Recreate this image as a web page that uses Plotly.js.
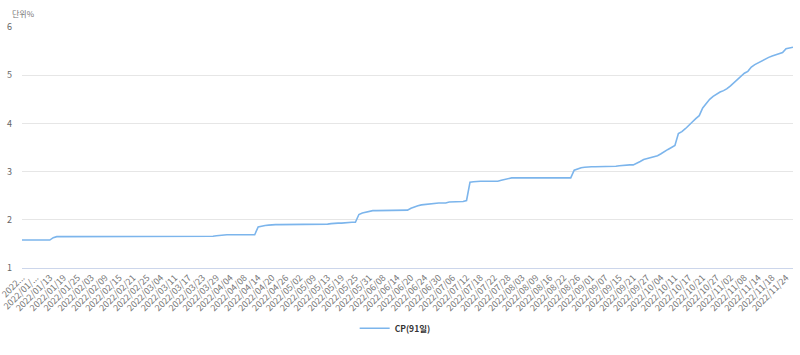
<!DOCTYPE html>
<html>
<head>
<meta charset="utf-8">
<script src="https://cdn.plot.ly/plotly-3.0.1.min.js"></script>
<style>html,body{margin:0;padding:0;background:#fff;}#chart{width:800px;height:355px;}</style>
</head>
<body>
<div id="chart"></div>
<script>
const seriesName = "CP(91일)";
const unitLabel = "단위%";

const dates = [
"2022/01/03","2022/01/04","2022/01/05","2022/01/06","2022/01/07","2022/01/10","2022/01/11","2022/01/12","2022/01/13","2022/01/14",
"2022/01/17","2022/01/18","2022/01/19","2022/01/20","2022/01/21","2022/01/24","2022/01/25","2022/01/26","2022/01/27","2022/01/28",
"2022/02/03","2022/02/04","2022/02/07","2022/02/08","2022/02/09","2022/02/10","2022/02/11","2022/02/14","2022/02/15","2022/02/16",
"2022/02/17","2022/02/18","2022/02/21","2022/02/22","2022/02/23","2022/02/24","2022/02/25","2022/02/28",
"2022/03/02","2022/03/03","2022/03/04","2022/03/07","2022/03/08","2022/03/10","2022/03/11","2022/03/14","2022/03/15","2022/03/16",
"2022/03/17","2022/03/18","2022/03/21","2022/03/22","2022/03/23","2022/03/24","2022/03/25","2022/03/28","2022/03/29","2022/03/30","2022/03/31",
"2022/04/01","2022/04/04","2022/04/05","2022/04/06","2022/04/07","2022/04/08","2022/04/11","2022/04/12","2022/04/13","2022/04/14",
"2022/04/15","2022/04/18","2022/04/19","2022/04/20","2022/04/21","2022/04/22","2022/04/25","2022/04/26","2022/04/27","2022/04/28","2022/04/29",
"2022/05/02","2022/05/03","2022/05/04","2022/05/06","2022/05/09","2022/05/10","2022/05/11","2022/05/12","2022/05/13","2022/05/16",
"2022/05/17","2022/05/18","2022/05/19","2022/05/20","2022/05/23","2022/05/24","2022/05/25","2022/05/26","2022/05/27","2022/05/30","2022/05/31",
"2022/06/02","2022/06/03","2022/06/07","2022/06/08","2022/06/09","2022/06/10","2022/06/13","2022/06/14","2022/06/15","2022/06/16",
"2022/06/17","2022/06/20","2022/06/21","2022/06/22","2022/06/23","2022/06/24","2022/06/27","2022/06/28","2022/06/29","2022/06/30",
"2022/07/01","2022/07/04","2022/07/05","2022/07/06","2022/07/07","2022/07/08","2022/07/11","2022/07/12","2022/07/13","2022/07/14",
"2022/07/15","2022/07/18","2022/07/19","2022/07/20","2022/07/21","2022/07/22","2022/07/25","2022/07/26","2022/07/27","2022/07/28","2022/07/29",
"2022/08/01","2022/08/02","2022/08/03","2022/08/04","2022/08/05","2022/08/08","2022/08/09","2022/08/10","2022/08/11","2022/08/12",
"2022/08/16","2022/08/17","2022/08/18","2022/08/19","2022/08/22","2022/08/23","2022/08/24","2022/08/25","2022/08/26","2022/08/29","2022/08/30","2022/08/31",
"2022/09/01","2022/09/02","2022/09/05","2022/09/06","2022/09/07","2022/09/08","2022/09/13","2022/09/14","2022/09/15","2022/09/16",
"2022/09/19","2022/09/20","2022/09/21","2022/09/22","2022/09/23","2022/09/26","2022/09/27","2022/09/28","2022/09/29","2022/09/30",
"2022/10/04","2022/10/05","2022/10/06","2022/10/07","2022/10/11","2022/10/12","2022/10/13","2022/10/14","2022/10/17","2022/10/18",
"2022/10/19","2022/10/20","2022/10/21","2022/10/24","2022/10/25","2022/10/26","2022/10/27","2022/10/28","2022/10/31",
"2022/11/01","2022/11/02","2022/11/03","2022/11/04","2022/11/07","2022/11/08","2022/11/09","2022/11/10","2022/11/11","2022/11/14",
"2022/11/15","2022/11/16","2022/11/17","2022/11/18","2022/11/21","2022/11/22","2022/11/23","2022/11/24","2022/11/25","2022/11/28"
];

const cpRates = [
1.58,1.58,1.58,1.58,1.58,1.58,1.58,1.58,1.58,1.63,
1.65,1.65,1.65,1.65,1.65,1.65,1.65,1.65,1.65,1.65,
1.65,1.65,1.65,1.65,1.65,1.65,1.65,1.65,1.65,1.65,
1.65,1.65,1.65,1.65,1.65,1.65,1.65,1.65,
1.65,1.65,1.65,1.65,1.65,1.65,1.65,1.65,1.65,1.65,
1.65,1.65,1.65,1.65,1.65,1.65,1.65,1.66,1.67,1.68,1.69,
1.69,1.69,1.69,1.69,1.69,1.69,1.69,1.69,1.69,1.85,
1.87,1.88,1.89,1.90,1.90,1.90,1.90,1.90,1.90,1.90,1.90,
1.90,1.90,1.90,1.90,1.90,1.90,1.90,1.90,1.91,1.92,
1.93,1.93,1.93,1.94,1.94,1.95,1.95,2.11,2.14,2.16,2.18,
2.19,2.19,2.19,2.19,2.19,2.19,2.19,2.19,2.19,2.19,
2.20,2.24,2.27,2.29,2.31,2.32,2.33,2.34,2.35,2.35,
2.35,2.35,2.37,2.37,2.37,2.37,2.38,2.40,2.78,2.79,
2.80,2.80,2.80,2.80,2.80,2.80,2.80,2.82,2.84,2.86,2.87,
2.87,2.87,2.87,2.87,2.87,2.87,2.87,2.87,2.87,2.87,
2.87,2.87,2.87,2.87,2.87,2.87,2.87,3.03,3.06,3.08,3.09,3.10,
3.10,3.10,3.10,3.10,3.10,3.10,3.10,3.11,3.12,3.13,
3.13,3.14,3.14,3.17,3.21,3.25,3.27,3.29,3.30,3.33,
3.37,3.42,3.46,3.50,3.54,3.79,3.83,3.89,3.97,4.03,
4.10,4.16,4.32,4.42,4.50,4.56,4.61,4.65,4.68,
4.72,4.78,4.85,4.92,4.99,5.04,5.08,5.17,5.22,5.26,
5.30,5.33,5.37,5.40,5.42,5.44,5.47,5.55,5.57,5.58
];

const tickLabels = [
"2022...","2022/01/...","2022/01/13","2022/01/19","2022/01/25","2022/02/03","2022/02/09","2022/02/15","2022/02/21","2022/02/25",
"2022/03/04","2022/03/11","2022/03/17","2022/03/23","2022/03/29","2022/04/04","2022/04/08","2022/04/14","2022/04/20","2022/04/26",
"2022/05/02","2022/05/09","2022/05/13","2022/05/19","2022/05/25","2022/05/31","2022/06/08","2022/06/14","2022/06/20","2022/06/24",
"2022/06/30","2022/07/06","2022/07/12","2022/07/18","2022/07/22","2022/07/28","2022/08/03","2022/08/09","2022/08/16","2022/08/22",
"2022/08/26","2022/09/01","2022/09/07","2022/09/15","2022/09/21","2022/09/27","2022/10/04","2022/10/11","2022/10/17","2022/10/21",
"2022/10/27","2022/11/02","2022/11/08","2022/11/14","2022/11/18","2022/11/24"
];
const tickStep = 4;
const tickDates = tickLabels.map((_, k) => dates[k * tickStep]);

const FONT = "'Noto Sans CJK KR', 'Noto Sans', sans-serif";

const trace = {
  type: "scatter",
  mode: "lines",
  name: seriesName,
  x: dates,
  y: cpRates,
  line: {color: "#7cb5ec", width: 1.6},
  hoverinfo: "x+y"
};

const layout = {
  width: 800,
  height: 355,
  margin: {l: 22, r: 7, t: 27, b: 87},
  paper_bgcolor: "#ffffff",
  plot_bgcolor: "#ffffff",
  font: {family: FONT, size: 9, color: "#666666"},
  showlegend: true,
  legend: {
    orientation: "h",
    x: 0.484, xanchor: "center",
    y: -0.25, yanchor: "middle",
    font: {family: FONT, size: 8.5, color: "#333333", weight: "bold"},
    itemwidth: 30
  },
  xaxis: {
    type: "category",
    range: [0, dates.length - 1],
    tickmode: "array",
    tickvals: tickDates,
    ticktext: tickLabels,
    tickangle: -45,
    tickfont: {family: FONT, size: 9, color: "#777777"},
    showgrid: false,
    showline: true,
    linecolor: "#ccd6eb",
    linewidth: 1,
    ticks: "",
    zeroline: false,
    automargin: false
  },
  yaxis: {
    range: [1, 6],
    dtick: 1,
    tick0: 1,
    showgrid: true,
    gridcolor: "#e6e6e6",
    gridwidth: 1,
    zeroline: false,
    showline: false,
    ticks: "",
    ticklabelstandoff: 9,
    tickfont: {family: FONT, size: 9, color: "#666666"},
    automargin: false
  },
  annotations: [{
    text: unitLabel,
    xref: "paper", yref: "paper",
    x: -12 / 771, y: 1.055,
    xanchor: "left", yanchor: "middle",
    showarrow: false,
    font: {family: FONT, size: 8, color: "#777777"}
  }]
};

Plotly.newPlot("chart", [trace], layout, {displayModeBar: false, staticPlot: true});
</script>
</body>
</html>
